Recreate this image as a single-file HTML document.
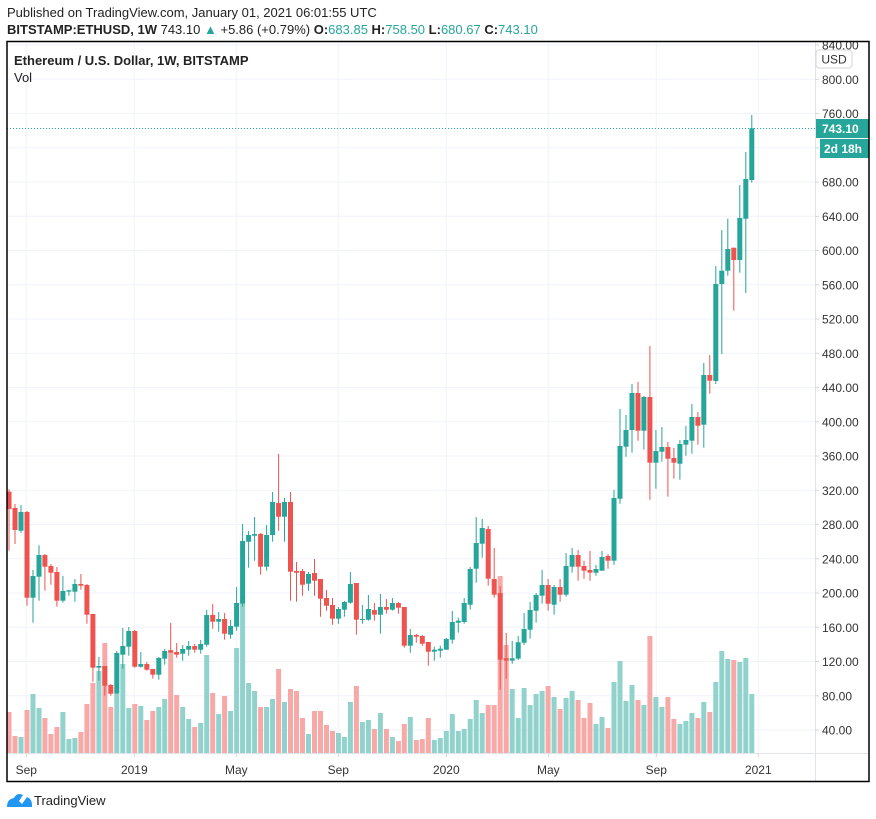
<!DOCTYPE html>
<html><head><meta charset="utf-8">
<style>
body{margin:0;background:#fff;width:876px;height:819px;overflow:hidden;font-family:"Liberation Sans",sans-serif}
svg{position:absolute;left:0;top:0}
</style></head>
<body>
<svg id="s" width="876" height="819" xmlns="http://www.w3.org/2000/svg" font-family="Liberation Sans, sans-serif"></svg>
<script>
// [type(1 green/0 red), bodyTop, bodyBot, wickTop, wickBot, volTop] in zoom coords
var A=[ // offset 440
[0,155,207,148,332,816],[0,204,270,192,312,888],[1,216,272,195,278,891],[0,216,473,213,497,810],
[1,408,473,390,548,762],[1,345,410,316,482,804],[0,345,380,342,452,834],[0,378,398,372,434,882],
[0,396,482,381,500,861],[1,453,482,408,488,816],[1,451,455,449,467,897],[1,432,455,417,485,894],
[0,432,437,402,449,876],[0,435,524,432,551,792],[0,522,683,522,725,729],[1,678,683,651,722,693],
[0,678,737,678,767,609],[0,735,761,732,767,801],[1,639,761,633,761,762],[1,618,644,564,686,672],
[1,573,620,561,647,804],[0,573,680,570,683,792],[1,672,680,636,683,798],[0,672,689,666,692,840],
[0,687,704,687,716,813],[1,654,704,651,719,801],[1,633,656,627,674,777],[0,631,638,549,638,630],
[0,636,644,609,653,765],[1,627,641,615,662,801],[1,618,629,603,647,837],[0,618,629,612,638,861],
[1,612,629,600,641,849],[1,525,614,510,620,645],[0,525,545,492,566,759],[1,537,545,516,575,822],
[0,537,581,519,599,768],[1,558,584,540,596,813],[1,489,560,441,572,624],[1,303,491,252,500,491],
[1,285,305,273,383,729],[1,282,287,231,362,753],[0,282,380,279,404,801],[1,285,380,255,392,801],
[1,186,285,156,305,777],[0,189,230,42,272,687],[1,186,230,174,305,786],[0,186,395,156,482,747],
[0,393,398,366,485,753],[0,393,434,387,467,834],[1,402,431,396,452,882],[0,399,422,357,467,813],
[0,417,476,417,530,813],[0,474,497,450,512,855],[0,495,536,474,554,873],[1,507,536,501,551,879],
[1,486,509,483,530,891],[1,432,488,396,491,786],[0,429,539,429,584,738],[1,537,540,495,551,846],
[1,507,539,465,542,840],[0,510,524,489,542,867],[1,501,524,462,581,819],[0,501,509,477,521,867],
[1,489,509,474,512,891],[0,489,503,486,521,903],[0,501,617,501,623,852],[1,585,617,567,638,831],
[0,585,590,582,608,900],[0,588,611,585,617,897],[0,606,635,606,677,834],[1,629,635,620,662,900],
[1,626,632,617,653,894],[1,597,629,594,629,873],[1,546,599,513,611,822],[1,542,548,533,578,873],
[1,489,546,474,551,867],[1,387,494,381,509,837],[1,309,386,231,428,780],[1,264,311,237,353,819],
[0,267,416,258,437,795],[0,417,464,324,473,795],[0,459,659,438,749,408]];
var B=[ // offset 330
[0,985,992,909,1046,945],[1,985,992,933,1001,1077],[1,937,986,918,990,1164],[1,897,938,849,945,1074],
[1,840,899,816,926,1125],[1,795,842,789,878,1092],[1,765,797,720,821,1083],[0,765,821,747,842,1068],
[1,771,824,765,854,1101],[0,771,794,747,815,1137],[1,708,794,669,800,1104],[1,675,710,654,728,1083],
[0,675,710,660,752,1110],[0,708,722,692,746,1164],[0,720,728,663,752,1119],[1,717,728,705,737,1182],
[1,681,722,663,722,1161],[0,678,692,672,716,1194],[1,504,692,480,704,1056],[1,348,506,237,521,993],
[1,300,350,255,380,1113],[1,189,300,162,368,1065],[0,189,302,156,332,1110],[1,201,302,198,359,1125],
[0,201,398,48,509,918],[1,363,398,300,476,1101],[1,351,365,291,395,1131],[0,351,386,336,500,1101],
[0,384,398,354,446,1167],[1,342,401,330,449,1182],[1,330,344,288,377,1173],[1,261,332,222,371,1149],
[0,261,287,246,344,1164],[1,135,284,99,353,1116],[0,135,152,75,191,1146]];
var C=[ // actual px; vol in zoom3 coords
[1,284,381,266,384,1056],[1,270.7,284,230,354,963],[1,249,270.7,218.7,275.7,987],[0,247.7,260,247.7,310.7,990],
[1,218,260,185,272.7,996],[1,179,218.7,152,293,984],[1,128.3,180,115,182.7,1092]];
var d=[];
A.forEach(function(r){d.push([r[0],440+r[1]/3,440+r[2]/3,440+r[3]/3,440+r[4]/3,440+r[5]/3]);});
B.forEach(function(r){d.push([r[0],330+r[1]/3,330+r[2]/3,330+r[3]/3,330+r[4]/3,330+r[5]/3]);});
C.forEach(function(r){d.push([r[0],r[1],r[2],r[3],r[4],330+r[5]/3]);});
var h='';
// grid
for(var p=40;p<=840;p+=40){var y=730-(p-40)*0.85625;
 if(y>42) h+='<line x1="7" x2="815" y1="'+y.toFixed(1)+'" y2="'+y.toFixed(1)+'" stroke="#f0f3fa" stroke-width="1"/>';}
var vx=[26.3,134.3,236.3,338.3,446.3,548.3,656.3,758.3],vl=['Sep','2019','May','Sep','2020','May','Sep','2021'];
vx.forEach(function(x,i){h+='<line x1="'+x+'" x2="'+x+'" y1="41" y2="753" stroke="#f0f3fa"/>';
 h+='<line x1="'+x+'" x2="'+x+'" y1="753" y2="757" stroke="#d6d6d6"/>';
 h+='<text x="'+x+'" y="774" font-size="12" fill="#333" text-anchor="middle">'+vl[i]+'</text>';});
// volume
d.forEach(function(r,i){var x=9+i*5.99;
 h+='<rect x="'+(x-2.5).toFixed(1)+'" y="'+r[5].toFixed(1)+'" width="5" height="'+(753-r[5]).toFixed(1)+'" fill="'+(r[0]?'#92d2cc':'#f7a9a7')+'"/>';});
// candles
d.forEach(function(r,i){var x=9+i*5.99,c=r[0]?'#26a69a':'#ef5350';
 h+='<line x1="'+x.toFixed(1)+'" x2="'+x.toFixed(1)+'" y1="'+r[3].toFixed(1)+'" y2="'+r[4].toFixed(1)+'" stroke="'+c+'" stroke-width="1"/>';
 h+='<rect x="'+(x-2.5).toFixed(1)+'" y="'+r[1].toFixed(1)+'" width="5" height="'+Math.max(1,r[2]-r[1]).toFixed(1)+'" fill="'+c+'"/>';});
// price line
h+='<line x1="7" x2="815" y1="128.5" y2="128.5" stroke="#26a69a" stroke-dasharray="1,2"/>';
// axes
h+='<line x1="815.5" x2="815.5" y1="41" y2="781" stroke="#e0e3eb"/>';
h+='<line x1="7" x2="869" y1="753.5" y2="753.5" stroke="#e0e3eb"/>';
for(var p=40;p<=840;p+=40){var y=730-(p-40)*0.85625;
 if(p==760){} h+='<line x1="815" x2="819" y1="'+y.toFixed(1)+'" y2="'+y.toFixed(1)+'" stroke="#d6d6d6"/>';
 h+='<text x="822" y="'+(y+4.5).toFixed(1)+'" font-size="12" fill="#333">'+p.toFixed(2)+'</text>';}
h+='<rect x="816" y="50" width="36" height="18" rx="3" fill="#fff" stroke="#d6d6d6"/><text x="834" y="63.5" font-size="12" fill="#333" text-anchor="middle">USD</text>';
h+='<rect x="816" y="119" width="53" height="19" fill="#26a69a"/><text x="822" y="133" font-size="12" font-weight="bold" fill="#fff">743.10</text>';
h+='<rect x="820" y="139" width="49" height="19" fill="#26a69a"/><text x="824" y="153" font-size="12" font-weight="bold" fill="#fff">2d 18h</text>';
h+='<rect x="7" y="41.5" width="862" height="740" fill="none" stroke="#000" stroke-width="1.5"/>';
// header
h+='<text x="7" y="17" font-size="13" fill="#222">Published on TradingView.com, January 01, 2021 06:01:55 UTC</text>';
h+='<text x="7" y="34" font-size="13" fill="#222"><tspan font-weight="bold">BITSTAMP:ETHUSD, 1W</tspan> 743.10 <tspan fill="#26a69a">▲</tspan> +5.86 (+0.79%) <tspan font-weight="bold">O:</tspan><tspan fill="#26a69a">683.85</tspan> <tspan font-weight="bold">H:</tspan><tspan fill="#26a69a">758.50</tspan> <tspan font-weight="bold">L:</tspan><tspan fill="#26a69a">680.67</tspan> <tspan font-weight="bold">C:</tspan><tspan fill="#26a69a">743.10</tspan></text>';
h+='<text x="14" y="65" font-size="13" font-weight="bold" fill="#222">Ethereum / U.S. Dollar, 1W, BITSTAMP</text>';
h+='<text x="14" y="82" font-size="13" fill="#222">Vol</text>';
// logo
h+='<path d="M7 807 Q7 799 14 798 Q17 792 23 795 L19 801 L22 804 L27 797 Q32 799 32 805 L32 807 Z" fill="#2196f3"/>';
h+='<text x="34" y="805" font-size="13" fill="#222">TradingView</text>';
document.getElementById('s').innerHTML=h;
</script>
</body></html>
